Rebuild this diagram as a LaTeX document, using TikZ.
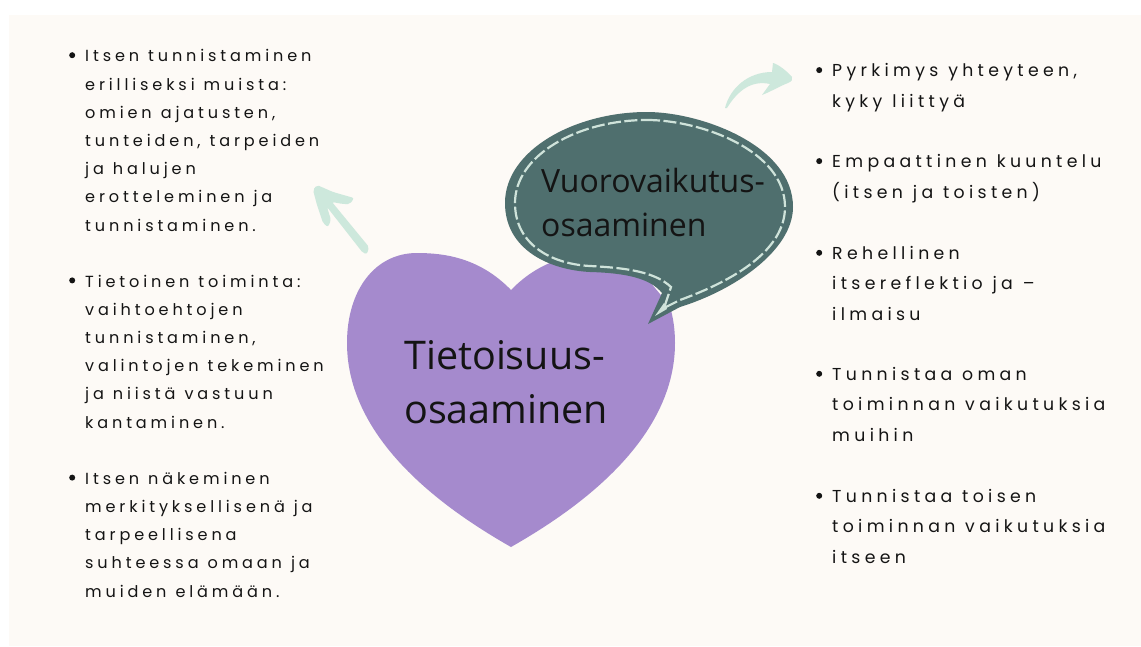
\documentclass[tikz,border=0pt]{standalone}
\usepackage{fontspec}
\setmainfont{Open Sans}
\newfontfamily\listfont[LetterSpace=24,WordSpace=1.1]{Poppins}
\newfontfamily\rightfont[LetterSpace=25,WordSpace=1.1]{Poppins}
\definecolor{panel}{HTML}{FDFAF6}
\definecolor{heartc}{HTML}{A58ACD}
\definecolor{bubblec}{HTML}{4F6F6E}
\definecolor{mint}{HTML}{CDE8DC}
\definecolor{stitch}{HTML}{CFE3DA}
\definecolor{ink}{HTML}{141414}
\tikzset{
  listtext/.style={anchor=base west,inner sep=0pt,align=left,text=ink,
    font=\fontsize{16.1pt}{28.2pt}\selectfont\listfont},
  righttext/.style={listtext,font=\fontsize{17.3pt}{30.3pt}\selectfont\rightfont},
  bigtext/.style={anchor=base west,inner sep=0pt,align=left,text=ink},
}
\newcommand{\bul}{\llap{\raisebox{3.6pt}{\tikz\fill[ink] circle (3pt);}\hspace{10pt}}}
\begin{document}
\begin{tikzpicture}[x=1pt,y=-1pt]
\useasboundingbox (0,0) rectangle (1141,646);
\fill[white] (0,0) rectangle (1141,646);
\fill[panel] (9,15) rectangle (1141,646);
% heart
\fill[heartc] (511,547) .. controls (455,515) and (347,445) .. (347,343)
  .. controls (347,290) and (375,253) .. (417,253)
  .. controls (445,253) and (480,258) .. (511,290)
  .. controls (542,258) and (577,253) .. (605,253)
  .. controls (647,253) and (675,290) .. (675,343)
  .. controls (675,445) and (567,515) .. (511,547) -- cycle;
\fill[panel] (651,283) -- (665,292) -- (661,295) -- cycle;
% bubble
\fill[bubblec] (647,112) .. controls (700,112) and (793,145) .. (793,207)
  .. controls (793,250) and (735,290) .. (680,307)
  -- (648,324) -- (662,293)
  .. controls (650,278) and (625,273) .. (590,272)
  .. controls (550,270) and (505,250) .. (505,203)
  .. controls (505,150) and (575,112) .. (647,112) -- cycle;
\fill[stitch] (655,316) -- (664,303) -- (667,309) -- cycle;
\draw[stitch,line width=2.2pt,dash pattern=on 13pt off 3.5pt] (647,120)
  .. controls (700,120) and (785,150) .. (785,207)
  .. controls (785,250) and (735,280) .. (680,300)
  -- (664,308) -- (671,287)
  .. controls (655,272) and (628,268) .. (590,266)
  .. controls (552,264) and (515,245) .. (515,203)
  .. controls (515,155) and (578,120) .. (647,120) -- cycle;
% arrows
\fill[mint] (725,108) .. controls (730,88) and (748,72) .. (772,72)
  -- (773,63) .. controls (778,64) and (788,72) .. (792,77)
  .. controls (793,80) and (792,81) .. (788,83)
  .. controls (780,86) and (770,92) .. (762,95)
  -- (770,84) .. controls (752,80) and (738,90) .. (727,108) -- cycle;
\fill[mint,rounded corners=2pt] (313,190) -- (317,185) -- (333,192) -- (354,198) -- (350,204) -- (343,204) -- (332,202) -- (369,247) -- (367,254) -- (363,253) -- (327,207) -- (331,220) -- (328,227) -- (323,223) -- (317,205) -- cycle;
% heart and bubble titles
\node[bigtext,font=\fontsize{39.5pt}{54pt}\selectfont] (t1) at (404,423) {Tietoisuus-\\osaaminen};
\node[bigtext,font=\fontsize{32pt}{44pt}\selectfont] (t2) at (541,236) {Vuorovaikutus-\\osaaminen};
% left lists
\node[listtext] (l1) at (85,231) {\bul Itsen tunnistaminen\\erilliseksi muista:\\omien ajatusten,\\tunteiden, tarpeiden\\ja halujen\\erotteleminen ja\\tunnistaminen.};
\node[listtext] (l2) at (85,428) {\bul Tietoinen toiminta:\\vaihtoehtojen\\tunnistaminen,\\valintojen tekeminen\\ja niistä vastuun\\kantaminen.};
\node[listtext] (l3) at (85,597) {\bul Itsen näkeminen\\merkityksellisenä ja\\tarpeellisena\\suhteessa omaan ja\\muiden elämään.};
% right lists
\node[righttext] (r1) at (832,107) {\bul Pyrkimys yhteyteen,\\kyky liittyä};
\node[righttext] (r2) at (832,198) {\bul Empaattinen kuuntelu\\(itsen ja toisten)};
\node[righttext] (r3) at (832,320) {\bul Rehellinen\\itsereflektio ja –\\ilmaisu};
\node[righttext] (r4) at (832,441) {\bul Tunnistaa oman\\toiminnan vaikutuksia\\muihin};
\node[righttext] (r5) at (832,563) {\bul Tunnistaa toisen\\toiminnan vaikutuksia\\itseen};
\end{tikzpicture}
\end{document}
